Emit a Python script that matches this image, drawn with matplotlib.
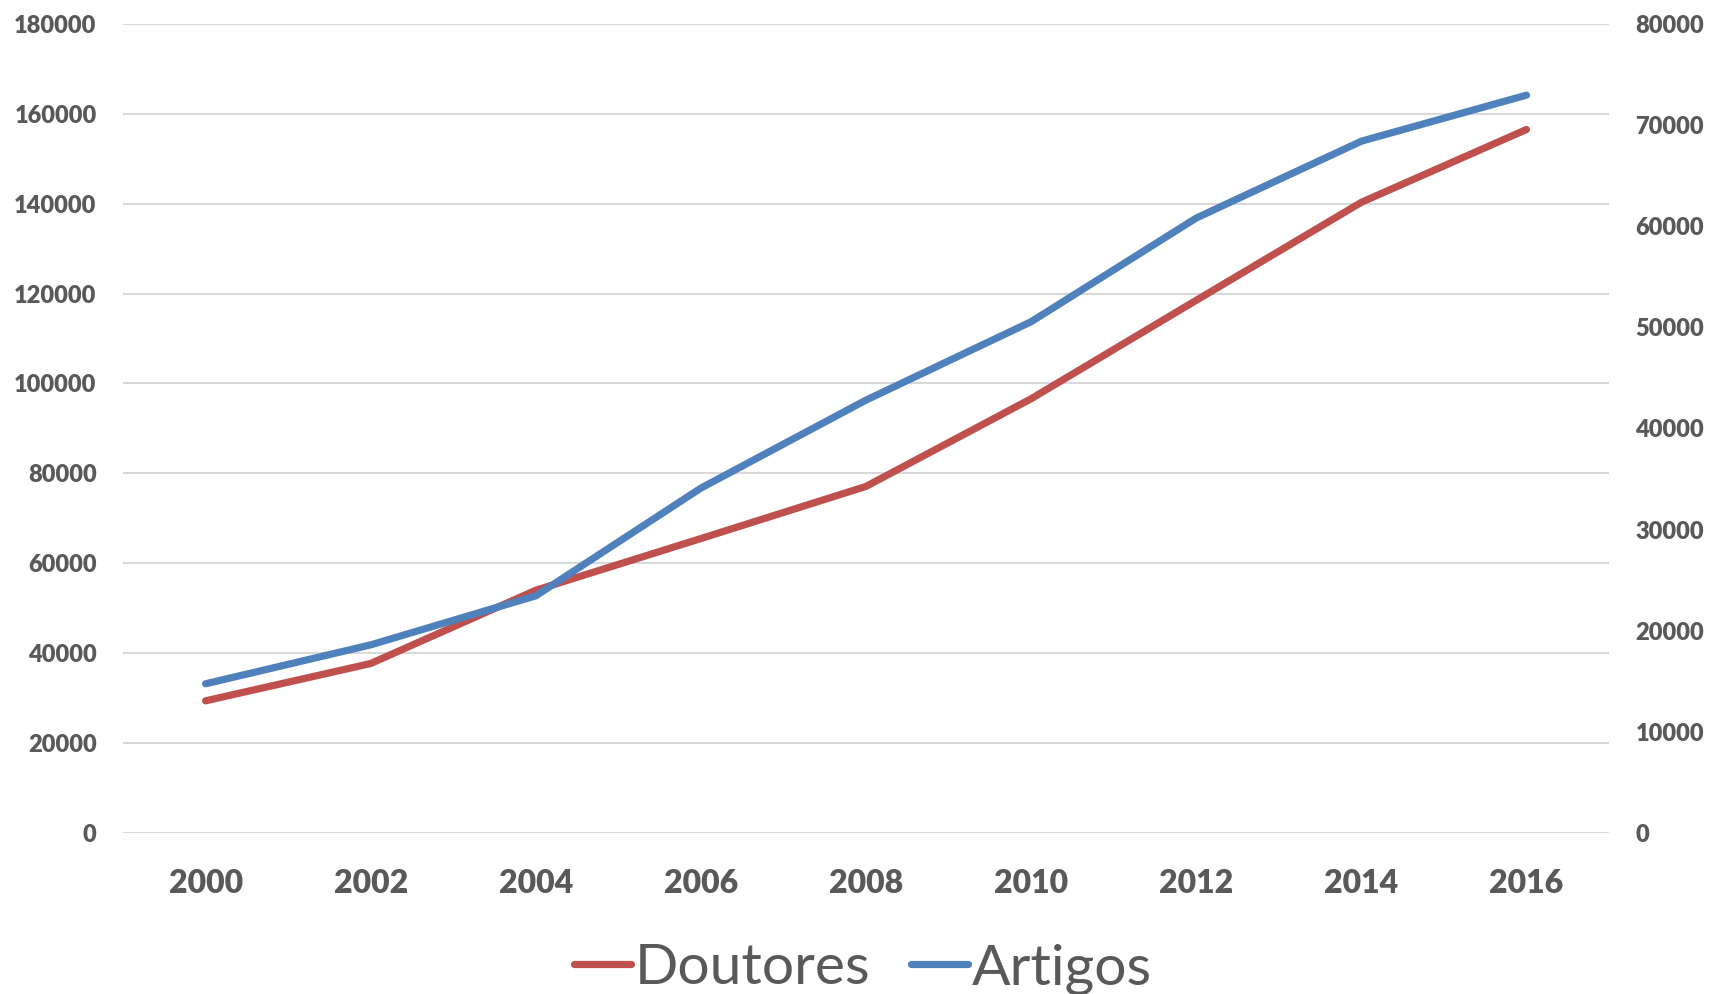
import matplotlib
matplotlib.use('Agg')
import matplotlib.pyplot as plt

anos = ['2000', '2002', '2004', '2006', '2008', '2010', '2012', '2014', '2016']
doutores = [29400, 37700, 54000, 65500, 77100, 96600, 118500, 140300, 156500]
artigos = [14750, 18600, 23450, 34100, 42800, 50550, 60800, 68400, 72950]

esq_ticks = list(range(0, 180001, 20000))
dir_ticks = list(range(0, 80001, 10000))

cinza = '#595959'
plt.rcParams['font.family'] = ['Lato', 'DejaVu Sans']

fig = plt.figure(figsize=(17.09, 9.94), dpi=100)
ax = fig.add_axes([0.072, 0.162, 0.8695, 0.814])
ax2 = ax.twinx()

x = range(len(anos))
l1, = ax.plot(x, doutores, color='#C0504D', lw=5.2, solid_capstyle='round',
              solid_joinstyle='round', label='Doutores', zorder=3)
l2, = ax2.plot(x, artigos, color='#4F81BD', lw=5.2, solid_capstyle='round',
               solid_joinstyle='round', label='Artigos', zorder=3)

ax.set_xlim(-0.5, len(anos) - 0.5)
ax.set_ylim(0, 180000)
ax2.set_ylim(0, 80000)
ax.set_yticks(esq_ticks)
ax2.set_yticks(dir_ticks)
ax.set_xticks(list(x))
ax.set_xticklabels(anos)

ax.grid(axis='y', color='#D9D9D9', lw=1.5)
ax.set_axisbelow(True)
for a in (ax, ax2):
    for s in a.spines.values():
        s.set_visible(False)
    a.tick_params(length=0)

ax.tick_params(axis='y', pad=19, labelsize=17, labelcolor=cinza)
ax2.tick_params(axis='y', pad=19, labelsize=17, labelcolor=cinza)
ax.tick_params(axis='x', pad=26, labelsize=23, labelcolor=cinza)
for lab in ax.get_yticklabels() + ax2.get_yticklabels() + ax.get_xticklabels():
    lab.set_fontweight('heavy')

fig.legend(handles=[l1, l2], loc='center', bbox_to_anchor=(0.505, 0.025),
           ncol=2, frameon=False, fontsize=41, handlelength=1.0,
           handletextpad=0.08, columnspacing=0.7, labelcolor=cinza)

fig.savefig('out.png', dpi=100)
